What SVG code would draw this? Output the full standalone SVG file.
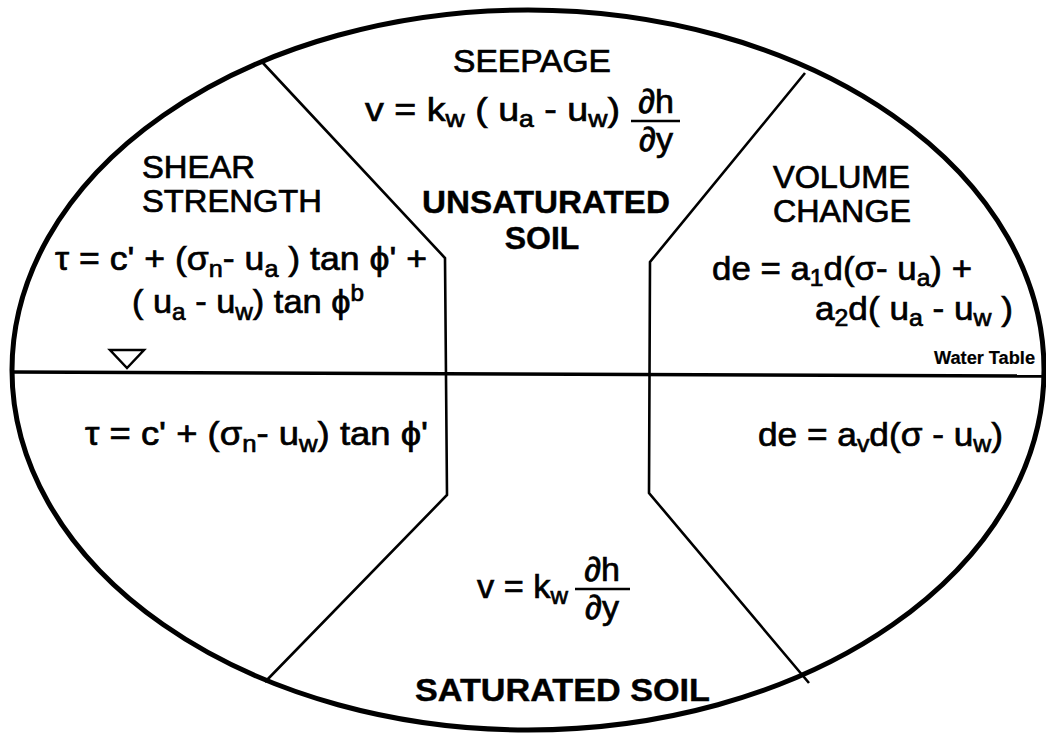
<svg xmlns="http://www.w3.org/2000/svg" width="1046" height="734" viewBox="0 0 1046 734">
<style>
.f{font-family:"Liberation Sans",Arial,Helvetica,sans-serif;fill:#000;stroke:#000;stroke-width:0.7}
.ttl{font-size:31px}
.bld{font-size:32px;font-weight:bold;stroke-width:0.4}
.eq{font-size:34px}
.sub{font-size:24px}
.wt{font-size:18px;font-weight:bold;stroke-width:0.2}
.bd{fill:none;stroke:#000;stroke-width:2.6;stroke-linejoin:miter}
.bar{stroke:#000;stroke-width:2.4}
</style>
<rect width="1046" height="734" fill="#fff"/>
<g id="outline">
<ellipse cx="528" cy="370" rx="516" ry="360" fill="none" stroke="#000" stroke-width="5"/>
</g>
<g id="connectors">
<path class="bd" d="M263,63 L445,258 L447,495 L265,682"/>
<path class="bd" d="M805,73 L650,262 L649,493 L809,683"/>
<path d="M12,372 L1046,376" stroke="#000" stroke-width="3.5" fill="none"/>
</g>
<g id="water-table">
<path d="M110,350 L144,350 L127,368 Z" fill="#fff" stroke="#000" stroke-width="2.5" stroke-linejoin="miter"/>
<text class="f wt" x="934" y="364" textLength="101" lengthAdjust="spacingAndGlyphs">Water Table</text>
</g>
<g id="seepage">
<text class="f ttl" x="453" y="72" textLength="158" lengthAdjust="spacingAndGlyphs">SEEPAGE</text>
<text class="f eq" x="365" y="121" textLength="255" lengthAdjust="spacingAndGlyphs">v = k<tspan class="sub" dy="6">w</tspan><tspan dy="-6"> ( u</tspan><tspan class="sub" dy="6">a</tspan><tspan dy="-6"> - u</tspan><tspan class="sub" dy="6">w</tspan><tspan dy="-6">)</tspan></text>
<text class="f eq" x="656" y="113" text-anchor="middle">∂h</text>
<line class="bar" x1="631" y1="121" x2="680" y2="121"/>
<text class="f eq" x="656" y="151" text-anchor="middle">∂y</text>
</g>
<g id="shear-strength">
<text class="f ttl" x="142" y="178" textLength="113" lengthAdjust="spacingAndGlyphs">SHEAR</text>
<text class="f ttl" x="142" y="212" textLength="180" lengthAdjust="spacingAndGlyphs">STRENGTH</text>
<text class="f eq" x="55" y="270" textLength="372" lengthAdjust="spacingAndGlyphs">τ = c' + (σ<tspan class="sub" dy="7">n</tspan><tspan dy="-7">- u</tspan><tspan class="sub" dy="7">a</tspan><tspan dy="-7"> ) tan ϕ' +</tspan></text>
<text class="f eq" x="132" y="313" textLength="232" lengthAdjust="spacingAndGlyphs">( u<tspan class="sub" dy="7">a</tspan><tspan dy="-7"> - u</tspan><tspan class="sub" dy="7">w</tspan><tspan dy="-7">) tan ϕ</tspan><tspan class="sub" dy="-12">b</tspan></text>
</g>
<g id="unsaturated-soil">
<text class="f bld" x="422" y="213" textLength="248" lengthAdjust="spacingAndGlyphs">UNSATURATED</text>
<text class="f bld" x="542" y="249" text-anchor="middle">SOIL</text>
</g>
<g id="volume-change">
<text class="f ttl" x="773" y="188" textLength="137" lengthAdjust="spacingAndGlyphs">VOLUME</text>
<text class="f ttl" x="773" y="222" textLength="138" lengthAdjust="spacingAndGlyphs">CHANGE</text>
<text class="f eq" x="712" y="280" textLength="260" lengthAdjust="spacingAndGlyphs">de = a<tspan class="sub" dy="6">1</tspan><tspan dy="-6">d(σ- u</tspan><tspan class="sub" dy="6">a</tspan><tspan dy="-6">) +</tspan></text>
<text class="f eq" x="815" y="320" textLength="198" lengthAdjust="spacingAndGlyphs">a<tspan class="sub" dy="6">2</tspan><tspan dy="-6">d( u</tspan><tspan class="sub" dy="6">a</tspan><tspan dy="-6"> - u</tspan><tspan class="sub" dy="6">w</tspan><tspan dy="-6"> )</tspan></text>
</g>
<g id="saturated-shear">
<text class="f eq" x="85" y="445" textLength="343" lengthAdjust="spacingAndGlyphs">τ = c' + (σ<tspan class="sub" dy="7">n</tspan><tspan dy="-7">- u</tspan><tspan class="sub" dy="7">w</tspan><tspan dy="-7">) tan ϕ'</tspan></text>
</g>
<g id="saturated-volume">
<text class="f eq" x="758" y="446" textLength="245" lengthAdjust="spacingAndGlyphs">de = a<tspan class="sub" dy="6">v</tspan><tspan dy="-6">d(σ - u</tspan><tspan class="sub" dy="6">w</tspan><tspan dy="-6">)</tspan></text>
</g>
<g id="saturated-seepage">
<text class="f eq" x="477" y="598" textLength="91" lengthAdjust="spacingAndGlyphs">v = k<tspan class="sub" dy="6">w</tspan></text>
<text class="f eq" x="602" y="581" text-anchor="middle">∂h</text>
<line class="bar" x1="575" y1="589" x2="630" y2="589"/>
<text class="f eq" x="602" y="619" text-anchor="middle">∂y</text>
</g>
<g id="saturated-soil">
<text class="f bld" x="415" y="701" textLength="295" lengthAdjust="spacingAndGlyphs">SATURATED SOIL</text>
</g>
</svg>
